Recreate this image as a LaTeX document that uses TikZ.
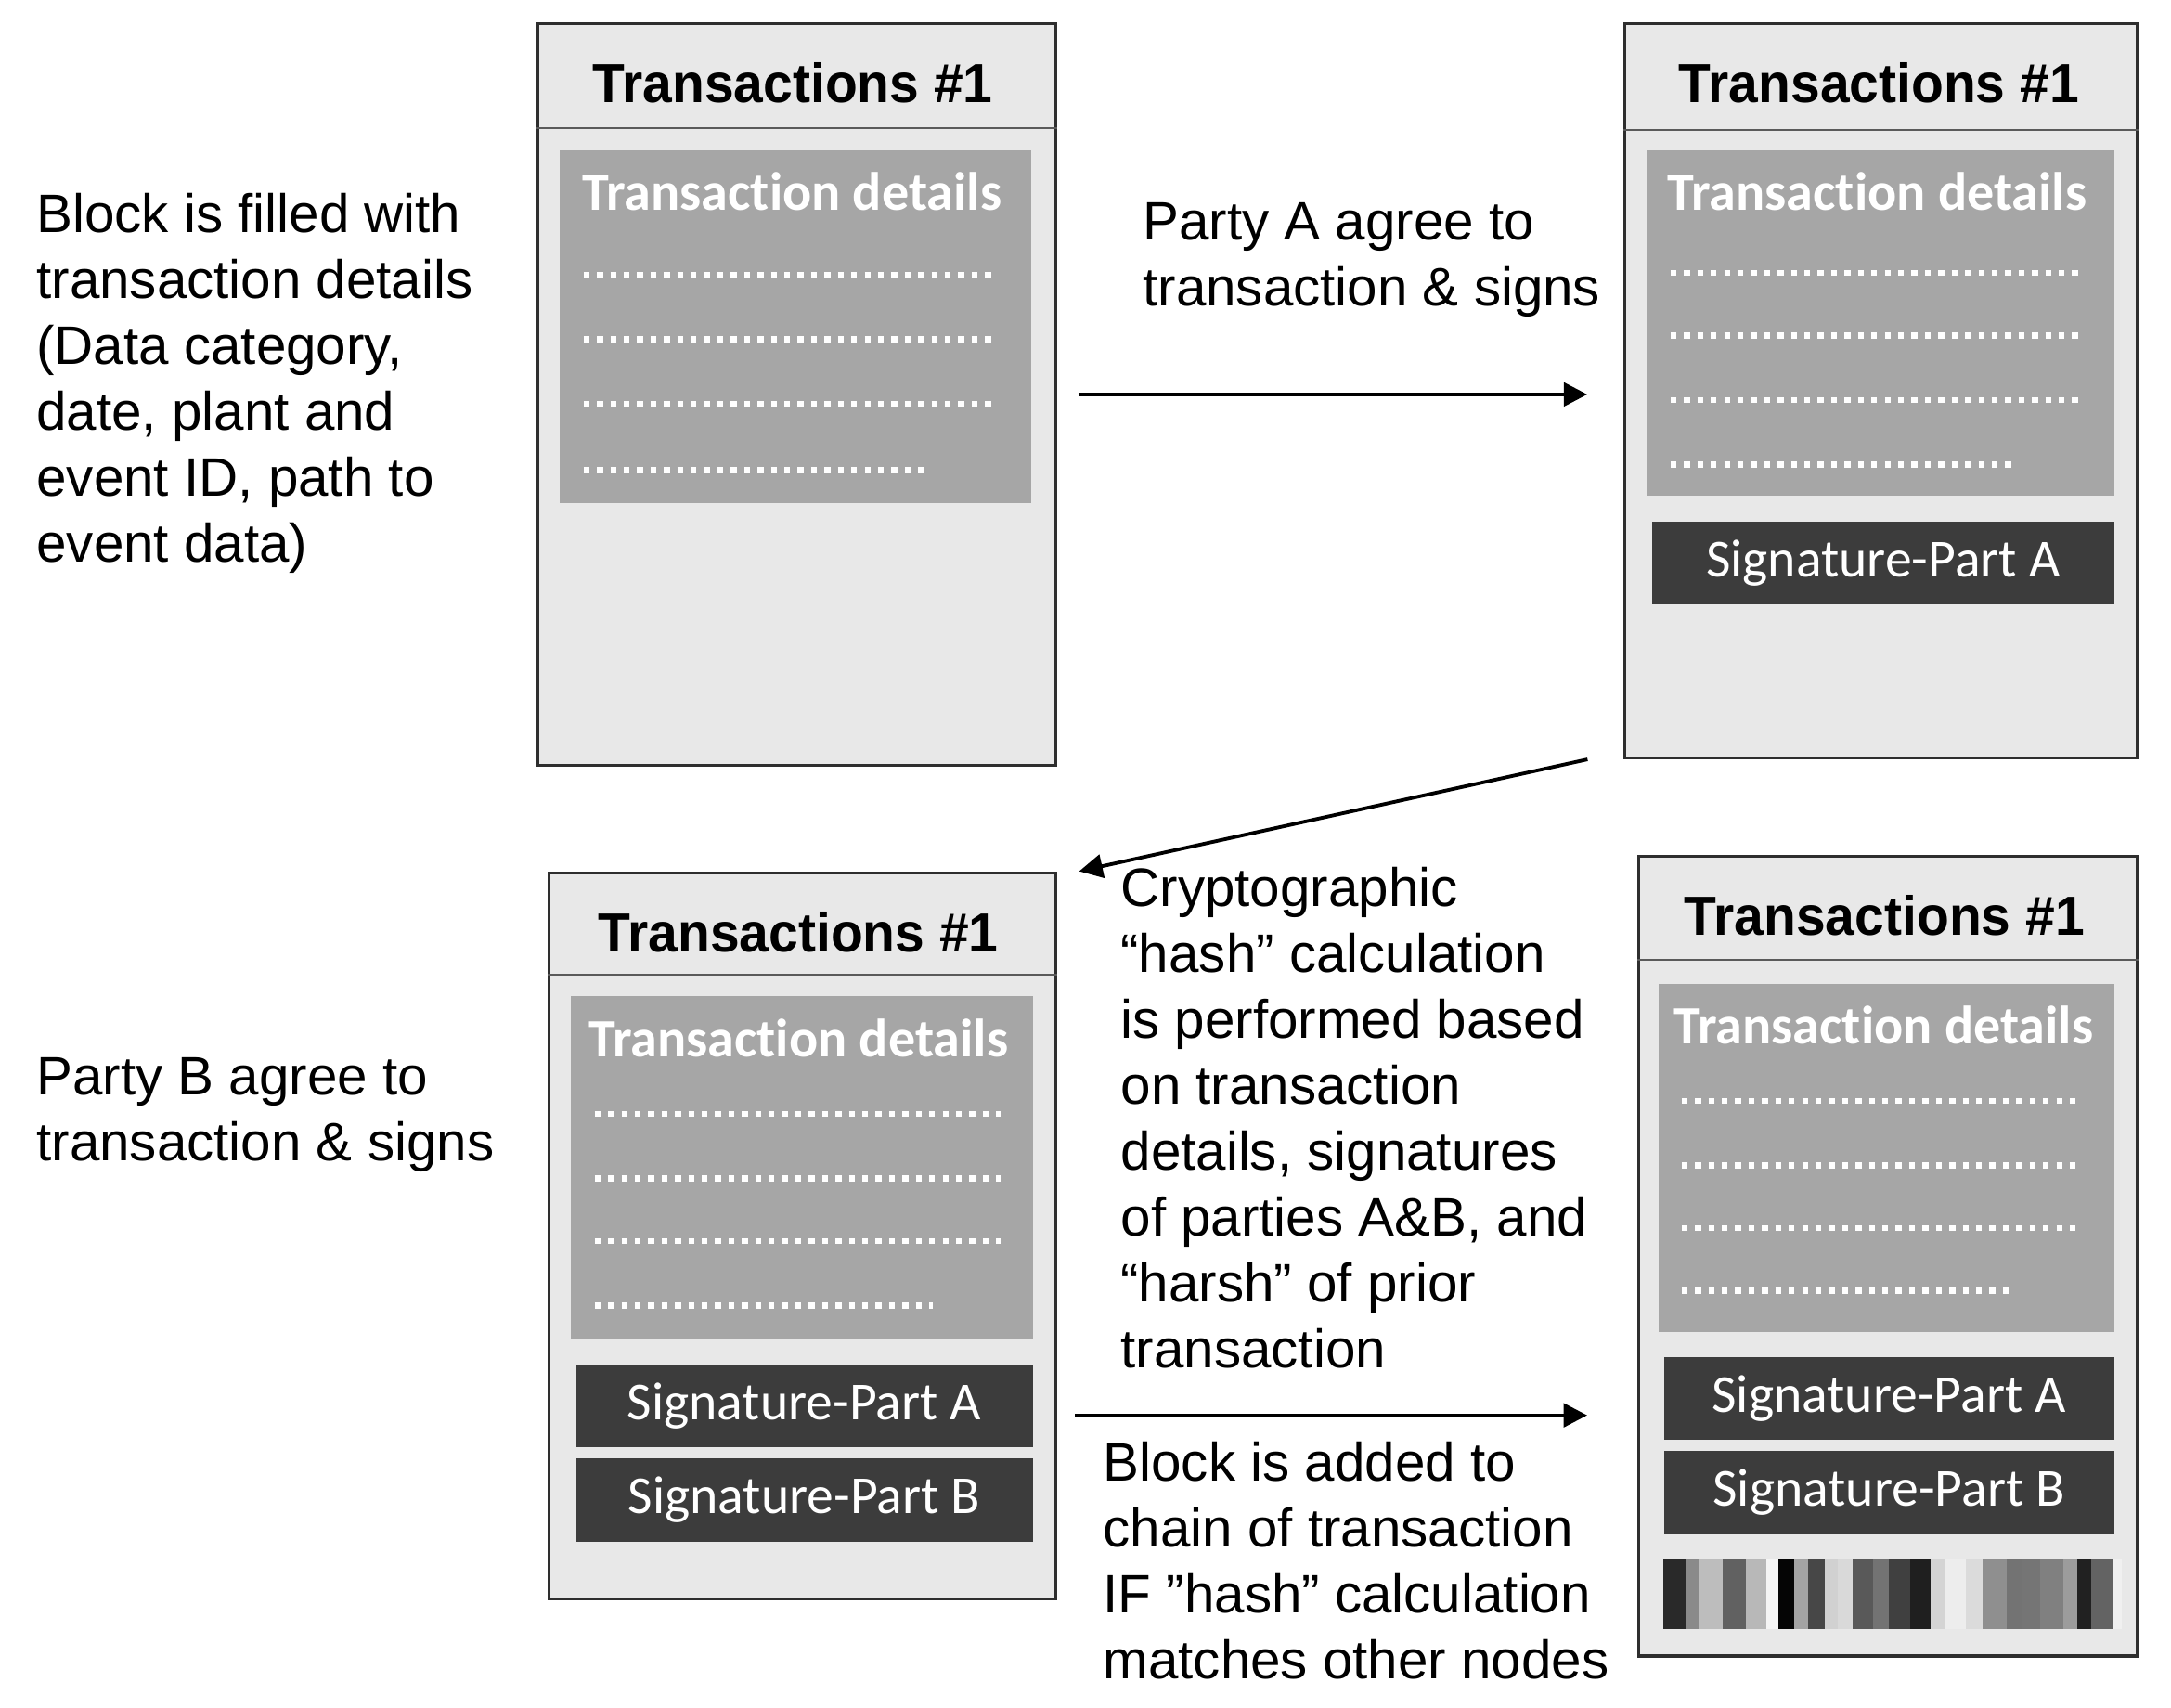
\documentclass[tikz,border=0pt]{standalone}
\usepackage{fontspec}
\setmainfont{Liberation Sans}
\newfontfamily\titlefont{Liberation Sans}[FakeStretch=0.96]
\newfontfamily\calfont{Carlito}[Ligatures=NoCommon]
\usetikzlibrary{arrows.meta,calc}
\definecolor{boxfill}{HTML}{E8E8E8}
\definecolor{boxline}{HTML}{2E2E2E}
\definecolor{hdrline}{HTML}{5A5A5A}
\definecolor{detfill}{HTML}{A6A6A6}
\definecolor{sigfill}{HTML}{3C3C3C}
\tikzset{
  blockbox/.style={draw=boxline, line width=0.9pt, fill=boxfill, anchor=north west, inner sep=0pt},
  hdr/.style={draw=hdrline, line width=0.6pt},
  detbox/.style={fill=detfill, anchor=north west, inner sep=0pt},
  sigbox/.style={fill=sigfill, anchor=north west, inner sep=0pt, minimum height=0.9cm, text=white, font=\calfont\fontsize{16.5}{19}\selectfont},
  title/.style={anchor=base, inner sep=0pt, font=\titlefont\bfseries\fontsize{17}{20}\selectfont},
  dettitle/.style={anchor=base, inner sep=0pt, text=white, font=\calfont\bfseries\fontsize{16.65}{19}\selectfont},
  dotrow/.style={draw=white, line width=1.8pt, dash pattern=on 1.8pt off 2.3pt},
  body/.style={anchor=north west, inner sep=0pt, align=left, font=\fontsize{16.7}{20.3}\selectfont},
  arr/.style={draw=black, line width=1.1pt, -{Triangle[length=7.2pt,width=7.2pt]}}
}
\begin{document}
\begin{tikzpicture}[x=0.01cm,y=-0.01cm,scale=0.9933,every node/.append style={transform shape}]
\useasboundingbox[fill=white] (0,0) rectangle (2354.77,1852.41);

% ---------- Block 1 ----------
\node[blockbox, minimum width=5.61cm, minimum height=8.04cm] (b1) at (582,24) {};
\draw[hdr] (b1.west |- 0,139) -- (b1.east |- 0,139);
\node[title] (t1) at (860,111) {Transactions \#1};
\node[detbox, minimum width=5.11cm, minimum height=3.83cm] (g1) at (606,162) {};
\node[dettitle] (d1) at (859,228) {Transaction details};
\draw[dotrow] (633,298) -- (1080,298);
\draw[dotrow] (633,368) -- (1080,368);
\draw[dotrow] (633,438) -- (1080,438);
\draw[dotrow] (633,510) -- (1010,510);

% ---------- Block 2 ----------
\node[blockbox, minimum width=5.55cm, minimum height=7.96cm] (b2) at (1761,24) {};
\draw[hdr] (b2.west |- 0,141) -- (b2.east |- 0,141);
\node[title] (t2) at (2038,111) {Transactions \#1};
\node[detbox, minimum width=5.07cm, minimum height=3.75cm] (g2) at (1785,162) {};
\node[dettitle] (d2) at (2036,228) {Transaction details};
\draw[dotrow] (1812,296) -- (2256,296);
\draw[dotrow] (1812,364) -- (2256,364);
\draw[dotrow] (1812,434) -- (2256,434);
\draw[dotrow] (1812,504) -- (2184,504);
\node[sigbox, minimum width=5.01cm] (s2a) at (1791,565) {Signature-Part A};

% ---------- Block 3 ----------
\node[blockbox, minimum width=5.49cm, minimum height=7.87cm] (b3) at (594,945) {};
\draw[hdr] (b3.west |- 0,1057) -- (b3.east |- 0,1057);
\node[title] (t3) at (866,1032) {Transactions \#1};
\node[detbox, minimum width=5.01cm, minimum height=3.72cm] (g3) at (618,1080) {};
\node[dettitle] (d3) at (866,1146) {Transaction details};
\draw[dotrow] (645,1208) -- (1085,1208);
\draw[dotrow] (645,1278) -- (1085,1278);
\draw[dotrow] (645,1346) -- (1085,1346);
\draw[dotrow] (645,1416) -- (1012,1416);
\node[sigbox, minimum width=4.95cm] (s3a) at (624,1479) {Signature-Part A};
\node[sigbox, minimum width=4.95cm] (s3b) at (624,1581) {Signature-Part B};

% ---------- Block 4 ----------
\node[blockbox, minimum width=5.40cm, minimum height=8.67cm] (b4) at (1776,927) {};
\draw[hdr] (b4.west |- 0,1041) -- (b4.east |- 0,1041);
\node[title] (t4) at (2044,1014) {Transactions \#1};
\node[detbox, minimum width=4.94cm, minimum height=3.78cm] (g4) at (1798,1066) {};
\node[dettitle] (d4) at (2043,1132) {Transaction details};
\draw[dotrow] (1824,1194) -- (2256,1194);
\draw[dotrow] (1824,1264) -- (2256,1264);
\draw[dotrow] (1824,1332) -- (2256,1332);
\draw[dotrow] (1824,1400) -- (2186,1400);
\node[sigbox, minimum width=4.88cm] (s4a) at (1804,1471) {Signature-Part A};
\node[sigbox, minimum width=4.88cm] (s4b) at (1804,1573) {Signature-Part B};
% hash barcode
\foreach \xa/\xb/\g in {1804/1828/16,1828/1843/54,1843/1868/74,1868/1894/38,1894/1916/72,1916/1929/96,
  1929/1946/2,1946/1961/64,1961/1979/28,1979/1993/82,1993/2009/85,2009/2032/35,2032/2049/45,
  2049/2072/25,2072/2094/12,2094/2109/83,2109/2132/93,2132/2150/86,2150/2177/56,2177/2193/45,
  2193/2213/46,2213/2238/50,2238/2253/61,2253/2268/13,2268/2291/39,2291/2301/94}
  \fill[white!\g!black] (\xa,1691) rectangle (\xb,1767);

% ---------- Texts ----------
\node[body] (l1) at (39,209) {Block is filled with\\transaction details\\(Data category,\\date, plant and\\event ID, path to\\event data)};
\node[body] (l2) at (1239,219) {Party A agree to\\transaction \& signs};
\node[body] (l3) at (39,1146) {Party B agree to\\transaction \& signs};
\node[body] (l4) at (1215,940) {Cryptographic\\“hash” calculation\\is performed based\\on transaction\\details, signatures\\of parties A\&B, and\\“harsh” of prior\\transaction};
\node[body] (l5) at (1196,1563) {Block is added to\\chain of transaction\\IF ”hash” calculation\\matches other nodes};

% ---------- Arrows ----------
\draw[arr, shorten <=0.23cm, shorten >=0.39cm] (b1.east) -- (b1.east -| b2.west);
\draw[arr] ([xshift=-0.39cm]b2.south west) -- ([xshift=0.24cm]b3.north east);
\coordinate (a3) at (1166,1535);
\draw[arr, shorten >=0.54cm] (a3) -- (a3 -| b4.west);
\end{tikzpicture}
\end{document}
